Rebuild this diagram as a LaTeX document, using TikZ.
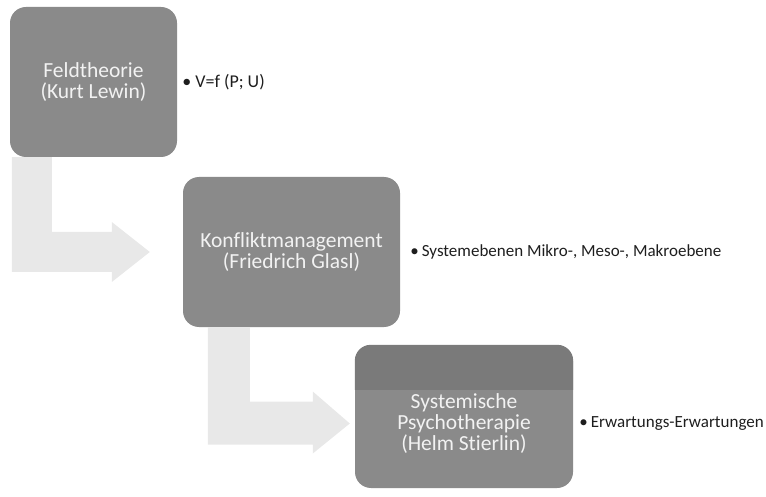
\documentclass[tikz,border=0pt]{standalone}
\usepackage{fontspec}
\setmainfont[Ligatures=NoCommon]{Carlito}
\usetikzlibrary{positioning, calc}

\definecolor{boxgray}{RGB}{138,138,138}
\definecolor{bandgray}{RGB}{122,122,122}
\definecolor{arrowgray}{RGB}{232,232,232}
\definecolor{boxtext}{RGB}{242,242,242}
\definecolor{notetext}{RGB}{30,30,30}

\begin{document}
\begin{tikzpicture}[
    x=1pt, y=-1pt,
    theory/.style={rectangle, rounded corners=16pt, fill=boxgray, text=boxtext,
        align=center, inner sep=0pt, font=\fontsize{21.5}{21}\selectfont},
    note/.style={anchor=west, text=notetext, inner sep=0pt, font=\fontsize{17}{20}\selectfont},
    bendarrow/.style={fill=arrowgray}
]
    \useasboundingbox (0,0) rectangle (766,497);

    % Theory boxes
    \node[theory, minimum width=167pt, minimum height=150pt] (feld) at (93.5,82) {Feldtheorie\\(Kurt Lewin)};
    \node[theory, minimum width=217pt, minimum height=150pt] (konflikt) at (291.5,252) {Konfliktmanagement\\(Friedrich Glasl)};
    \node[theory, minimum width=218pt, minimum height=143pt] (systemisch) at (464,416.5) {};

    % darker band on top of the last box
    \fill[bandgray] let \p1=(systemisch.north west), \p2=(systemisch.north east) in
        (\x1,\y1-45pt) [rounded corners=16pt] -- (\x1,\y1) -- (\x2,\y1) [sharp corners] -- (\x2,\y1-45pt) -- cycle;
    \node[text=boxtext, align=center, font=\fontsize{21.5}{21}\selectfont] at ($(systemisch.center)+(0,7)$) {Systemische\\Psychotherapie\\(Helm Stierlin)};

    % Notes
    \node[note, right=5pt of feld, font=\fontsize{18}{20}\selectfont] (lewin) {\textbullet\hspace{4pt}V=f (P; U)};
    \node[note, right=10pt of konflikt] (glasl) {\textbullet\hspace{3pt}Systemebenen Mikro-, Meso-, Makroebene};
    \node[note, right=6pt of systemisch, yshift=-7pt] (stierlin) {\textbullet\hspace{3pt}Erwartungs-Erwartungen};

    % Bent arrows
    \fill[bendarrow] let \p1=(feld.south west), \p2=(konflikt.west) in
        (\x1+2pt,\y1) -- (\x1+42pt,\y1) -- (\x1+42pt,\y2+20pt) -- (\x2-71pt,\y2+20pt)
        -- (\x2-71pt,\y2+30pt) -- (\x2-33pt,\y2) -- (\x2-71pt,\y2-30pt)
        -- (\x2-71pt,\y2-20pt) -- (\x1+2pt,\y2-20pt) -- cycle;
    \fill[bendarrow] let \p1=(konflikt.south west), \p2=(systemisch.west) in
        (\x1+25pt,\y1) -- (\x1+67pt,\y1) -- (\x1+67pt,\y2+15pt) -- (\x2-42pt,\y2+15pt)
        -- (\x2-42pt,\y2+25pt) -- (\x2-5pt,\y2-7pt) -- (\x2-42pt,\y2-37pt)
        -- (\x2-42pt,\y2-28pt) -- (\x1+25pt,\y2-28pt) -- cycle;

\end{tikzpicture}
\end{document}
